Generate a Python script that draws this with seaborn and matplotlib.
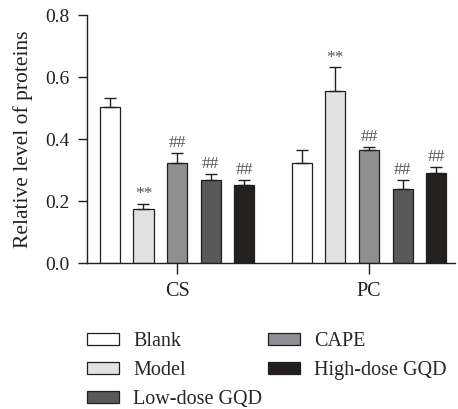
import matplotlib
matplotlib.use("Agg")
import matplotlib.pyplot as plt
import seaborn as sns
import pandas as pd
import numpy as np
from matplotlib.patches import Patch

groups = ["CS", "PC"]
treatments = ["Blank", "Model", "CAPE", "Low-dose GQD", "High-dose GQD"]
colors = ["#ffffff", "#e1e2e4", "#8e8f93", "#58595b", "#231f20"]
cs_means = [0.502, 0.173, 0.323, 0.267, 0.253]
cs_err = [0.029, 0.017, 0.031, 0.021, 0.015]
pc_means = [0.323, 0.556, 0.365, 0.238, 0.290]
pc_err = [0.042, 0.075, 0.010, 0.030, 0.021]
cs_marks = ["", "**", "##", "##", "##"]
pc_marks = ["", "**", "##", "##", "##"]

sns.set_style("ticks")
plt.rcParams["font.family"] = ["Liberation Serif", "DejaVu Serif"]

rows = []
for g, means, errs, marks in [("CS", cs_means, cs_err, cs_marks), ("PC", pc_means, pc_err, pc_marks)]:
    for t, m, e, mk in zip(treatments, means, errs, marks):
        rows.append(dict(group=g, treatment=t, value=m, err=e, mark=mk))
df = pd.DataFrame(rows)

W, H = 458, 409
fig = plt.figure(figsize=(W/100, H/100), dpi=100)
ax = fig.add_axes([87/W, 1-263/H, (455-87)/W, (263-15)/H])

sns.barplot(data=df, x="group", y="value", hue="treatment", order=groups,
            hue_order=treatments, palette=colors, errorbar=None, gap=0.4,
            width=0.875, edgecolor="#231f20", linewidth=0.9, ax=ax, legend=False)

for i, t in enumerate(treatments):
    cont = ax.containers[i]
    for j, bar in enumerate(cont.patches):
        g = groups[j]
        row = df[(df.group == g) & (df.treatment == t)].iloc[0]
        xc = bar.get_x() + bar.get_width() / 2
        top = bar.get_height()
        ax.errorbar(xc, top, yerr=[[0], [row.err]], fmt="none", ecolor="#231f20",
                    elinewidth=1.0, capsize=4, capthick=1.0, zorder=1)
        if row.mark:
            ax.text(xc, top + row.err + 0.006, row.mark, ha="center", va="bottom",
                    fontsize=12.5, color="#555555")

ax.set_xlim(-0.469, 1.448)
ax.set_ylim(0, 0.8)
ax.set_yticks([0.0, 0.2, 0.4, 0.6, 0.8])
ax.set_yticklabels(["0.0", "0.2", "0.4", "0.6", "0.8"])
ax.set_xlabel("")
ax.set_ylabel("Relative level of proteins", fontsize=15.5, color="#231f20", labelpad=9)
ax.tick_params(axis="y", length=6.5, width=1, labelsize=14, colors="#231f20", pad=6)
ax.tick_params(axis="x", length=8, width=1, labelsize=14.5, colors="#231f20", pad=6)
for s in ["top", "right"]:
    ax.spines[s].set_visible(False)
for s in ["left", "bottom"]:
    ax.spines[s].set_linewidth(1)
    ax.spines[s].set_color("#231f20")

col1 = ["Blank", "Model", "Low-dose GQD"]
col2 = ["CAPE", "High-dose GQD"]
def mk(names):
    return [Patch(facecolor=colors[treatments.index(t)], edgecolor="#231f20", linewidth=0.9, label=t)
            for t in names]
kw = dict(loc="upper left", frameon=False, fontsize=14.5, handlelength=1.6, handleheight=0.55,
          labelspacing=0.5, handletextpad=0.7, borderaxespad=0, borderpad=0)
fig.legend(handles=mk(col1), bbox_to_anchor=(87/W, 1-332/H), **kw)
fig.legend(handles=mk(col2), bbox_to_anchor=(268/W, 1-332/H), **kw)

fig.savefig("out.png", dpi=100)
